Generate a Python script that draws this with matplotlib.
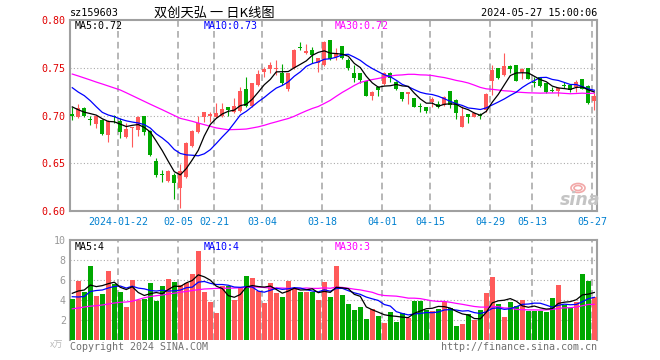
import numpy as np
import pandas as pd
import matplotlib
matplotlib.use('Agg')
import matplotlib.pyplot as plt
from matplotlib.patches import Ellipse

# trading days shown on the chart
dates = [
    '2024-01-10', '2024-01-11', '2024-01-12', '2024-01-15', '2024-01-16', '2024-01-17', '2024-01-18', '2024-01-19',
    '2024-01-22', '2024-01-23', '2024-01-24', '2024-01-25', '2024-01-26',
    '2024-01-29', '2024-01-30', '2024-01-31', '2024-02-01', '2024-02-02',
    '2024-02-05', '2024-02-06', '2024-02-07', '2024-02-08',
    '2024-02-19', '2024-02-20', '2024-02-21', '2024-02-22', '2024-02-23',
    '2024-02-26', '2024-02-27', '2024-02-28', '2024-02-29', '2024-03-01',
    '2024-03-04', '2024-03-05', '2024-03-06', '2024-03-07', '2024-03-08',
    '2024-03-11', '2024-03-12', '2024-03-13', '2024-03-14', '2024-03-15',
    '2024-03-18', '2024-03-19', '2024-03-20', '2024-03-21', '2024-03-22',
    '2024-03-25', '2024-03-26', '2024-03-27', '2024-03-28', '2024-03-29',
    '2024-04-01', '2024-04-02', '2024-04-03',
    '2024-04-08', '2024-04-09', '2024-04-10', '2024-04-11', '2024-04-12',
    '2024-04-15', '2024-04-16', '2024-04-17', '2024-04-18', '2024-04-19',
    '2024-04-22', '2024-04-23', '2024-04-24', '2024-04-25', '2024-04-26',
    '2024-04-29', '2024-04-30',
    '2024-05-06', '2024-05-07', '2024-05-08', '2024-05-09', '2024-05-10',
    '2024-05-13', '2024-05-14', '2024-05-15', '2024-05-16', '2024-05-17',
    '2024-05-20', '2024-05-21', '2024-05-22', '2024-05-23', '2024-05-24',
    '2024-05-27',
]

opens = [0.7010, 0.6980, 0.7080, 0.6955, 0.6910, 0.6950, 0.6800, 0.7000, 0.6940, 0.6770,
         0.6866, 0.6850, 0.6995, 0.6840, 0.6525, 0.6385, 0.6310, 0.6380, 0.6240, 0.6360,
         0.6680, 0.6830, 0.6980, 0.6990, 0.6980, 0.6990, 0.7085, 0.7040, 0.7050, 0.7274,
         0.7100, 0.7320, 0.7458, 0.7483, 0.7490, 0.7441, 0.7274, 0.7494, 0.7715, 0.7651,
         0.7686, 0.7553, 0.7529, 0.7790, 0.7609, 0.7727, 0.7581, 0.7448, 0.7441, 0.7365,
         0.7208, 0.7302, 0.7330, 0.7442, 0.7354, 0.7245, 0.7225, 0.7180, 0.7088, 0.7086,
         0.7140, 0.7125, 0.7110, 0.7256, 0.7160, 0.6883, 0.7016, 0.6988, 0.6998, 0.7057,
         0.7364, 0.7494, 0.7424, 0.7518, 0.7528, 0.7459, 0.7494, 0.7346, 0.7400, 0.7337,
         0.7258, 0.7259, 0.7312, 0.7320, 0.7302, 0.7378, 0.7309, 0.7155]
highs = [0.7090, 0.7120, 0.7090, 0.6990, 0.7000, 0.6960, 0.6950, 0.7010, 0.6970, 0.6920,
         0.6880, 0.6995, 0.7000, 0.6850, 0.6550, 0.6430, 0.6430, 0.6395, 0.6490, 0.6720,
         0.6850, 0.7000, 0.7040, 0.7040, 0.7134, 0.7127, 0.7090, 0.7180, 0.7300, 0.7406,
         0.7340, 0.7476, 0.7510, 0.7556, 0.7580, 0.7540, 0.7450, 0.7700, 0.7773, 0.7748,
         0.7720, 0.7600, 0.7775, 0.7792, 0.7703, 0.7730, 0.7598, 0.7530, 0.7441, 0.7365,
         0.7255, 0.7312, 0.7455, 0.7455, 0.7360, 0.7250, 0.7246, 0.7180, 0.7135, 0.7090,
         0.7197, 0.7150, 0.7200, 0.7260, 0.7170, 0.7099, 0.7020, 0.7040, 0.7022, 0.7240,
         0.7528, 0.7494, 0.7651, 0.7530, 0.7528, 0.7494, 0.7494, 0.7406, 0.7406, 0.7337,
         0.7300, 0.7295, 0.7354, 0.7330, 0.7371, 0.7378, 0.7319, 0.7239]
lows = [0.6950, 0.6970, 0.6980, 0.6900, 0.6870, 0.6800, 0.6725, 0.6920, 0.6760, 0.6760,
        0.6670, 0.6785, 0.6795, 0.6580, 0.6360, 0.6300, 0.6300, 0.6130, 0.6035, 0.6350,
        0.6670, 0.6820, 0.6935, 0.6935, 0.6970, 0.6988, 0.6995, 0.7030, 0.7040, 0.7090,
        0.7090, 0.7310, 0.7406, 0.7450, 0.7424, 0.7320, 0.7260, 0.7490, 0.7685, 0.7644,
        0.7546, 0.7459, 0.7520, 0.7580, 0.7580, 0.7590, 0.7476, 0.7354, 0.7337, 0.7200,
        0.7163, 0.7200, 0.7320, 0.7350, 0.7265, 0.7155, 0.7121, 0.7085, 0.7040, 0.7030,
        0.7090, 0.7080, 0.7100, 0.7080, 0.6960, 0.6876, 0.6918, 0.6980, 0.6960, 0.7040,
        0.7214, 0.7378, 0.7413, 0.7448, 0.7361, 0.7378, 0.7378, 0.7295, 0.7295, 0.7239,
        0.7242, 0.7204, 0.7285, 0.7250, 0.7250, 0.7274, 0.7120, 0.7057]
closes = [0.7000, 0.7080, 0.7000, 0.6950, 0.6990, 0.6810, 0.6940, 0.6980, 0.6830, 0.6860,
          0.6876, 0.6980, 0.6830, 0.6590, 0.6380, 0.6380, 0.6420, 0.6290, 0.6420, 0.6710,
          0.6840, 0.6920, 0.7040, 0.7020, 0.7030, 0.7070, 0.7060, 0.7100, 0.7256, 0.7100,
          0.7337, 0.7432, 0.7486, 0.7534, 0.7496, 0.7344, 0.7441, 0.7686, 0.7710, 0.7679,
          0.7633, 0.7598, 0.7766, 0.7588, 0.7658, 0.7598, 0.7494, 0.7389, 0.7371, 0.7204,
          0.7250, 0.7267, 0.7448, 0.7389, 0.7274, 0.7170, 0.7246, 0.7093, 0.7086, 0.7051,
          0.7170, 0.7086, 0.7195, 0.7110, 0.7022, 0.6995, 0.6981, 0.7022, 0.6995, 0.7225,
          0.7476, 0.7389, 0.7518, 0.7483, 0.7361, 0.7487, 0.7378, 0.7344, 0.7310, 0.7250,
          0.7256, 0.7284, 0.7310, 0.7267, 0.7354, 0.7274, 0.7134, 0.7204]
# volume in 万
volumes = [4.10, 5.93, 4.83, 7.40, 4.43, 4.60, 6.90, 5.57, 4.83, 3.33,
           6.00, 4.00, 4.10, 5.73, 3.90, 5.40, 6.10, 5.83, 5.50, 5.73,
           6.60, 8.93, 4.83, 3.83, 2.73, 5.40, 5.40, 4.00, 5.23, 6.43,
           6.17, 4.90, 3.73, 5.73, 4.73, 4.33, 5.93, 5.17, 4.83, 4.83,
           4.83, 4.00, 5.83, 4.33, 7.40, 4.50, 3.60, 3.00, 3.33, 2.10,
           3.07, 2.40, 1.73, 2.80, 1.83, 2.67, 2.17, 3.90, 3.90, 3.00,
           2.90, 3.10, 3.77, 3.17, 1.40, 1.60, 2.57, 2.00, 3.00, 4.70,
           6.30, 3.60, 2.30, 3.80, 3.40, 3.97, 2.90, 2.90, 2.90, 2.80,
           4.20, 5.50, 3.50, 3.17, 3.77, 6.60, 5.90, 4.33]

# moving-average values before a full window exists
ma5_head = [0.7090, 0.7060, 0.7035, 0.7020]
ma10_head = [0.7291, 0.7245, 0.7208, 0.7155, 0.7092, 0.7033, 0.7005, 0.6988, 0.6963]
ma30_head = [0.7434, 0.7414, 0.7393, 0.7372, 0.7350, 0.7330, 0.7309, 0.7288, 0.7267, 0.7238,
             0.7208, 0.7178, 0.7148, 0.7118, 0.7089, 0.7060, 0.7030, 0.7000, 0.6970, 0.6955,
             0.6939, 0.6921, 0.6904, 0.6887, 0.6870, 0.6860, 0.6851, 0.6853, 0.6855]
vma5_head = [4.67, 4.90, 5.00, 5.50]
vma10_head = [4.33, 4.30, 4.35, 4.85, 4.95, 5.00, 5.20, 5.35, 5.40]
vma30_head = [3.12, 3.20, 3.30, 3.38, 3.43, 3.50, 3.60, 3.70, 3.77, 3.80,
              3.88, 4.05, 4.22, 4.35, 4.43, 4.50, 4.60, 4.68, 4.78, 4.85,
              4.95, 5.03, 5.10, 5.13, 5.16, 5.17, 5.18, 5.20, 5.22]

tick_dates = ['2024-01-22', '2024-02-05', '2024-02-21', '2024-03-04', '2024-03-18',
              '2024-04-01', '2024-04-15', '2024-04-29', '2024-05-13', '2024-05-27']
tick_labels = ['2024-01-22', '02-05', '02-21', '03-04', '03-18',
               '04-01', '04-15', '04-29', '05-13', '05-27']
price_ticks = [0.60, 0.65, 0.70, 0.75, 0.80]
price_tick_labels = ['0.60', '0.65', '0.70', '0.75', '0.80']
vol_ticks = [2, 4, 6, 8, 10]


def moving_average(values, n, head):
    s = pd.Series(values).rolling(n).mean().to_numpy()
    s[:len(head)] = head
    return s


RED = '#ff5a5a'
GREEN = '#00a800'
FRAME = '#a0a0a0'
GRID = '#aaaaaa'
MONO = 'DejaVu Sans Mono'
CJK = ['Noto Sans CJK SC', 'DejaVu Sans']

W, H = 660, 360
fig = plt.figure(figsize=(W / 100, H / 100), dpi=100)


def fx(px):
    return px / W


def fy(py):
    return 1 - py / H


ax = fig.add_axes([fx(70), fy(211), fx(597) - fx(70), fy(20) - fy(211)])
axv = fig.add_axes([fx(70), fy(340), fx(597) - fx(70), fy(240) - fy(340)])

x = np.arange(len(dates))
o = np.array(opens)
c = np.array(closes)
colors = np.where(c >= o, RED, GREEN)
tick_pos = [dates.index(d) - 0.33 for d in tick_dates]

# price panel
ax.vlines(x, lows, highs, colors=colors, lw=0.8, zorder=3)
body_h = np.maximum(np.abs(c - o), 0.0011)
ax.bar(x, body_h, bottom=np.minimum(o, c), width=0.72, color=colors, linewidth=0, zorder=3)
ax.plot(x, moving_average(closes, 30, ma30_head), color='#ff00ff', lw=0.9, zorder=4)
ax.plot(x, moving_average(closes, 10, ma10_head), color='#0000ff', lw=0.9, zorder=4)
ax.plot(x, moving_average(closes, 5, ma5_head), color='black', lw=0.9, zorder=5)

for yv in price_ticks[1:-1]:
    ax.axhline(yv, color=GRID, lw=0.8, linestyle=(0, (1, 2)), zorder=1)

ax.set_ylim(0.60, 0.80)
ax.set_yticks(price_ticks)
ax.set_yticklabels(price_tick_labels, fontfamily=MONO, fontsize=7.2)
ax.tick_params(axis='y', length=0, pad=3, labelcolor='#e00000')
ax.set_xticks(tick_pos)
ax.set_xticklabels(tick_labels, fontfamily=MONO, fontsize=7.2)
ax.tick_params(axis='x', length=0, pad=4, labelcolor='#0080d0')

# volume panel
axv.bar(x, volumes, width=0.78, color=colors, linewidth=0, zorder=3)
axv.plot(x, moving_average(volumes, 30, vma30_head), color='#ff00ff', lw=0.9, zorder=4)
axv.plot(x, moving_average(volumes, 10, vma10_head), color='#0000ff', lw=0.9, zorder=4)
axv.plot(x, moving_average(volumes, 5, vma5_head), color='black', lw=0.9, zorder=5)
for yv in vol_ticks[:-1]:
    axv.axhline(yv, color=GRID, lw=0.8, linestyle=(0, (1, 2)), zorder=1)
axv.set_ylim(0, 10)
axv.set_yticks(vol_ticks)
axv.set_yticklabels([str(v) for v in vol_ticks], fontfamily=MONO, fontsize=7.2)
axv.tick_params(axis='y', length=0, pad=3, labelcolor='#999999')
axv.set_xticks([])

for a in (ax, axv):
    a.set_xlim(-0.38, 87.45)
    for p in tick_pos:
        a.axvline(p, color=GRID, lw=1.2, linestyle=(0, (4, 2.5)), zorder=1)
    for s in a.spines.values():
        s.set_color(FRAME)
        s.set_linewidth(1.5)
axv.spines['bottom'].set_visible(False)

# header texts
fig.text(fx(70), fy(13), 'sz159603', fontfamily=MONO, fontsize=7.3, ha='left', va='center')
fig.text(fx(214), fy(13), '双创天弘 一 日K线图', fontfamily=CJK, fontsize=9.5, ha='center', va='center')
fig.text(fx(597), fy(13), '2024-05-27 15:00:06', fontfamily=MONO, fontsize=7.3, ha='right', va='center')

fig.text(fx(75), fy(26), 'MA5:0.72', fontfamily=MONO, fontsize=7.2, color='black', va='center')
fig.text(fx(204), fy(26), 'MA10:0.73', fontfamily=MONO, fontsize=7.2, color='#0000ff', va='center')
fig.text(fx(335), fy(26), 'MA30:0.72', fontfamily=MONO, fontsize=7.2, color='#ff00ff', va='center')
fig.text(fx(75), fy(247), 'MA5:4', fontfamily=MONO, fontsize=7.2, color='black', va='center')
fig.text(fx(204), fy(247), 'MA10:4', fontfamily=MONO, fontsize=7.2, color='#0000ff', va='center')
fig.text(fx(335), fy(247), 'MA30:3', fontfamily=MONO, fontsize=7.2, color='#ff00ff', va='center')

# footer
fig.text(fx(63), fy(345), 'x万', fontfamily=CJK, fontsize=6.5, color='#bbbbbb', ha='right', va='center',
         style='italic')
fig.text(fx(70), fy(347), 'Copyright 2024 SINA.COM', fontfamily=MONO, fontsize=7.2, color='#707070',
         ha='left', va='center')
fig.text(fx(597), fy(347), 'http://finance.sina.com.cn', fontfamily=MONO, fontsize=7.2, color='#707070',
         ha='right', va='center')

# sina watermark: grey wordmark with a pale red eye
fig.text(fx(580), fy(200), 'sina', fontsize=12.5, fontweight='bold', style='italic', color='#c4c4c4',
         ha='center', va='center')
for w_px, h_px in [(14, 9), (8, 5)]:
    fig.patches.append(Ellipse((fx(578), fy(188)), fx(w_px), h_px / H, transform=fig.transFigure,
                               facecolor='none', edgecolor='#f2a8a8', lw=1.2))

fig.savefig('out.png', dpi=100)
